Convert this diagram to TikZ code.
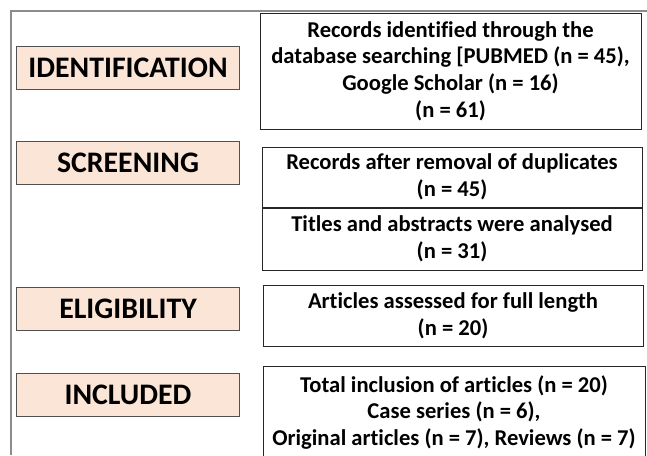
\documentclass[tikz,border=0pt]{standalone}
\usepackage{fontspec}
\setmainfont{Carlito}[Ligatures=NoCommon]
\usepackage{xcolor}
\usetikzlibrary{positioning}

\definecolor{stagefill}{HTML}{FBE5D6}
\definecolor{stageline}{HTML}{505050}
\definecolor{frameline}{HTML}{8C8C8C}

\begin{document}
\begin{tikzpicture}[
  x=1pt, y=-1pt,
  stage/.style={rectangle, draw=stageline, fill=stagefill, line width=1pt, minimum width=223pt, minimum height=43pt, inner sep=0pt, font=\fontsize{29.8}{34}\selectfont\bfseries},
  record/.style={rectangle, draw=black!85, line width=1pt, minimum width=380pt, inner sep=0pt, align=center, font=\fontsize{22.6}{26.6}\selectfont\bfseries},
]
\useasboundingbox (0,0) rectangle (647,455);

% outer frame (top and left edges only)
\draw[frameline, line width=1.5pt] (11,455) -- (11,11) -- (647,11);

% stage labels on the left
\node[stage] (ident) at (128,67.5) {IDENTIFICATION};
\node[stage] (screen) at (128,162.5) {SCREENING};
\node[stage] (elig) at (128,308.5) {ELIGIBILITY};
\node[stage] (incl) at (128,395) {INCLUDED};

% identification
\node[record, minimum width=381pt, minimum height=116pt] (rec) at (450.5,71)
  {Records identified through the\\database searching [PUBMED (n = 45),\\Google Scholar (n = 16)\\(n = 61)};

% screening
\node[record, minimum height=60pt] (dup) at (452,177)
  {Records after removal of duplicates\\(n = 45)};
\node[record, minimum height=62pt, below=0pt of dup] (tit)
  {Titles and abstracts were analysed\\(n = 31)};

% eligibility
\node[record, minimum height=61pt] (full) at (453,315.5)
  {Articles assessed for full length\\(n = 20)};

% included (bottom edge runs off the page)
\node[record, minimum width=382pt, minimum height=93pt] (tot) at (454,412.5)
  {Total inclusion of articles (n = 20)\\Case series (n = 6),\\Original articles (n = 7), Reviews (n = 7)};
\end{tikzpicture}
\end{document}
